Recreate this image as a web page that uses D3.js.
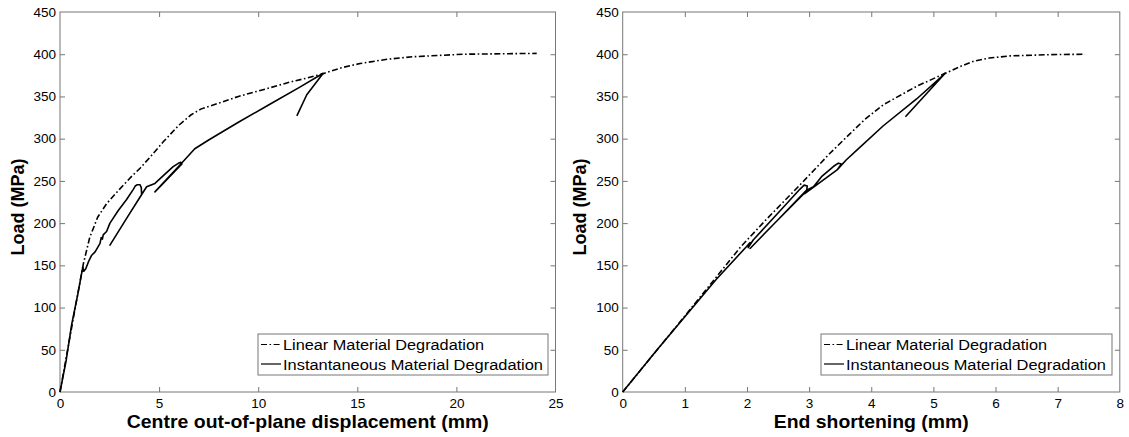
<!DOCTYPE html>
<html>
<head>
<meta charset="utf-8">
<script src="https://cdn.jsdelivr.net/npm/d3@7"></script>
<style>
  html, body { margin: 0; padding: 0; background: #fff; }
  svg { display: block; }
  .tick text { font-family: "Liberation Sans", Arial, sans-serif; font-size: 13.5px; fill: #000; }
  .tick line { stroke: #777; }
</style>
</head>
<body>
<svg id="fig" width="1129" height="437"></svg>
<script>
// Load (MPa) against centre out-of-plane displacement (mm)
const dispLinear = [
  [0,0],[0.4,52],[0.8,104],[1.18,152],[1.5,183],[1.9,207],[2.35,223],[3.0,240],
  [3.6,255],[4.04,265],[4.54,278],[5.2,296],[6.0,316],[6.6,328],[7.1,335],[8.0,342],
  [9.0,350],[10.4,359],[11.6,367],[12.5,372],[13.28,377],[14.2,384],[15.14,389],
  [16.5,394],[17.8,397],[20.35,400],[24.05,401]
];
const dispInstant = [
  [0,0],[0.3,36],[0.59,80],[0.9,116],[1.15,148],[1.2,143],[1.3,146],[1.45,155],
  [1.6,162],[1.77,166],[2.02,176],[2.08,183],[2.14,181],[2.18,186],[2.35,190],
  [2.52,200],[2.94,215],[3.36,228],[3.7,240],[3.8,244],[3.9,245.5],[4.04,245.5],
  [4.1,242],[4.12,234],[3.4,207],[2.52,174],[3.4,207],[4.37,243],[4.79,247],
  [5.2,256],[5.71,266.8],[5.97,270.8],[6.1,272],[6.15,270],[4.79,237],[6.05,268.8],
  [6.8,288],[7.5,298.4],[9.0,319.5],[10.5,339.5],[12.1,361],[13.28,377.4],
  [12.45,352],[11.95,327]
];

// Load (MPa) against end shortening (mm)
const shortLinear = [
  [0,0],[1.0,90],[1.9,172],[2.32,205],[2.85,245],[3.34,283],[3.66,306],[3.9,323],
  [4.19,340],[4.73,362],[5.19,377.4],[5.45,386],[5.64,391.5],[5.9,395.5],[6.23,398],
  [6.88,399.5],[7.44,400]
];
const shortInstant = [
  [0,0],[0.55,49.7],[1.0,89],[1.5,133],[1.99,172],[2.05,177],[2.02,171],[2.1,180],
  [2.3,196],[2.6,220],[2.85,240],[2.92,245],[2.97,244],[2.96,238],[2.5,204],
  [2.05,170],[2.5,204],[2.96,239],[3.07,243],[3.2,255],[3.39,267],[3.47,271],
  [3.52,270],[3.45,263],[2.93,235],[3.45,263],[3.6,275],[3.79,288],[4.19,315],
  [4.73,347],[5.19,377.4],[4.55,326]
];

const loadTicks = [0,50,100,150,200,250,300,350,400,450];
const dispTicks = [0,5,10,15,20,25];
const shortTicks = [0,1,2,3,4,5,6,7,8];
const seriesNames = ["Linear Material Degradation", "Instantaneous Material Degradation"];

const svg = d3.select("#fig");
const DASHDOT = "6,2.5,1.6,2.5";

function panel(opts) {
  const x = d3.scaleLinear().domain(opts.xDomain).range(opts.xRange);
  const y = d3.scaleLinear().domain([0, 450]).range([392, 12]);
  const g = svg.append("g");
  const [x0, x1] = opts.xRange;

  // inward ticks on all four sides
  const bottom = g.append("g").attr("transform", `translate(0,392)`)
    .call(d3.axisBottom(x).tickValues(opts.xTicks).tickSize(-5).tickSizeOuter(0).tickPadding(6.5));
  const top = g.append("g").attr("transform", `translate(0,12)`)
    .call(d3.axisTop(x).tickValues(opts.xTicks).tickSize(-5).tickSizeOuter(0).tickFormat(""));
  const left = g.append("g").attr("transform", `translate(${x0},0)`)
    .call(d3.axisLeft(y).tickValues(loadTicks).tickSize(-5).tickSizeOuter(0).tickPadding(4));
  const right = g.append("g").attr("transform", `translate(${x1},0)`)
    .call(d3.axisRight(y).tickValues(loadTicks).tickSize(-5).tickSizeOuter(0).tickFormat(""));
  [bottom, top, left, right].forEach(a => a.select(".domain").remove());
  bottom.selectAll(".tick text").attr("dy", "0.72em");
  // first and last ticks sit on the frame
  [bottom, top].forEach(a => a.selectAll(".tick line").filter(d => d === opts.xTicks[0] || d === opts.xTicks[opts.xTicks.length-1]).remove());
  [left, right].forEach(a => a.selectAll(".tick line").filter(d => d === 0 || d === 450).remove());

  g.append("rect").attr("x", x0).attr("y", 12).attr("width", x1 - x0).attr("height", 380)
    .attr("fill", "none").attr("stroke", "#777").attr("stroke-width", 1);

  const line = d3.line().x(d => x(d[0])).y(d => y(d[1]));
  g.append("path").datum(opts.instant).attr("d", line)
    .attr("fill", "none").attr("stroke", "#000").attr("stroke-width", 1.6).attr("stroke-linejoin", "round");
  g.append("path").datum(opts.linear).attr("d", line)
    .attr("fill", "none").attr("stroke", "#000").attr("stroke-width", 1.6)
    .attr("stroke-dasharray", DASHDOT);

  // axis titles
  g.append("text").attr("x", (x0 + x1) / 2).attr("y", 428)
    .attr("text-anchor", "middle")
    .attr("font-family", "Liberation Sans, Arial, sans-serif").attr("font-weight", "bold")
    .attr("font-size", 19).attr("textLength", opts.xTitleLen).attr("lengthAdjust", "spacingAndGlyphs")
    .text(opts.xTitle);
  g.append("text").attr("transform", `translate(${opts.yTitleX},207) rotate(-90)`)
    .attr("text-anchor", "middle")
    .attr("font-family", "Liberation Sans, Arial, sans-serif").attr("font-weight", "bold")
    .attr("font-size", 18)
    .text("Load (MPa)");

  // legend
  const lg = g.append("g");
  lg.append("rect").attr("x", opts.legX).attr("y", 334).attr("width", opts.legW).attr("height", 41)
    .attr("fill", "#fff").attr("stroke", "#777").attr("stroke-width", 1);
  const rows = [
    {name: seriesNames[0], dash: DASHDOT, yb: 350, len: 201},
    {name: seriesNames[1], dash: null, yb: 369.5, len: 260}
  ];
  rows.forEach(r => {
    lg.append("line").attr("x1", opts.legX + 3).attr("x2", opts.legX + 23)
      .attr("y1", r.yb - 5.5).attr("y2", r.yb - 5.5)
      .attr("stroke", "#000").attr("stroke-width", 1.2)
      .attr("stroke-dasharray", r.dash);
    lg.append("text").attr("x", opts.legX + 25).attr("y", r.yb)
      .attr("font-family", "Liberation Sans, Arial, sans-serif").attr("font-size", 15.5)
      .attr("textLength", r.len).attr("lengthAdjust", "spacingAndGlyphs")
      .text(r.name);
  });
}

panel({
  xDomain: [0, 25], xRange: [60, 555.5], xTicks: dispTicks,
  linear: dispLinear, instant: dispInstant,
  xTitle: "Centre out-of-plane displacement (mm)", xTitleLen: 362, yTitleX: 24,
  legX: 258, legW: 290
});
panel({
  xDomain: [0, 8], xRange: [622.7, 1119.8], xTicks: shortTicks,
  linear: shortLinear, instant: shortInstant,
  xTitle: "End shortening (mm)", xTitleLen: 195, yTitleX: 586,
  legX: 821, legW: 291
});
</script>
</body>
</html>
